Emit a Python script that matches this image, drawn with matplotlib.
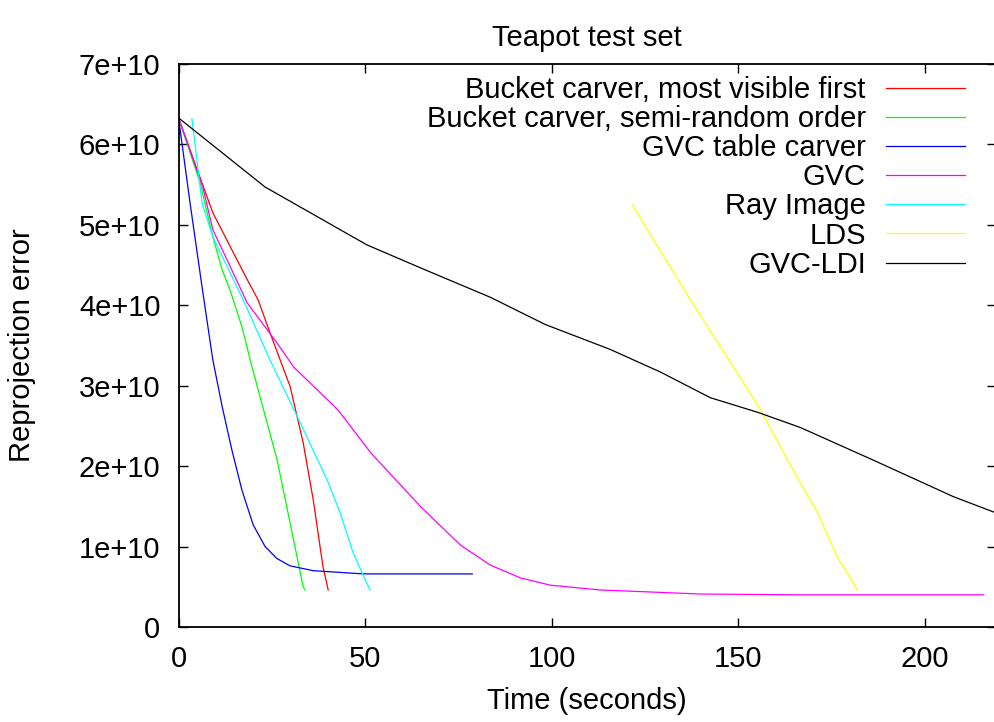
import numpy as np
import matplotlib
matplotlib.use("Agg")
import matplotlib.pyplot as plt

plt.rcParams['font.family'] = ['Liberation Sans', 'DejaVu Sans']

# values (time in s, error in units of 1e10)
red_t = [0, 6.3, 9.2, 18.4, 21.3, 24.5, 29.9, 33.4, 36.1, 38.7, 40.1]
red_v = [6.33, 5.52, 5.15, 4.32, 4.07, 3.66, 2.99, 2.29, 1.58, 0.75, 0.46]

green_t = [0, 5.8, 9.2, 11.7, 13.8, 17.0, 19.7, 26.4, 33.4, 33.9]
green_v = [6.33, 5.52, 4.85, 4.44, 4.19, 3.73, 3.23, 2.08, 0.50, 0.46]

blue_t = [0, 3.1, 6.3, 9.2, 11.7, 14.3, 17.0, 20.0, 23.2, 26.4, 29.9, 36.1, 49.5, 78.7]
blue_v = [6.33, 5.27, 4.23, 3.32, 2.74, 2.20, 1.70, 1.27, 1.00, 0.85, 0.76, 0.70, 0.66, 0.66]

mag_t = [0, 6.5, 9.2, 18.4, 26.4, 30.9, 42.7, 51.6, 65.0, 75.5, 83.5, 91.6, 99.6, 113, 139.8, 166.6, 215.7]
mag_v = [6.33, 5.47, 4.94, 4.03, 3.53, 3.23, 2.70, 2.16, 1.49, 1.02, 0.77, 0.61, 0.52, 0.46, 0.41, 0.40, 0.40]

cyan_t = [3.6, 6.3, 9.2, 17.3, 24.5, 32.6, 39.8, 43.3, 46.8, 51.3]
cyan_v = [6.32, 5.27, 4.85, 4.07, 3.32, 2.54, 1.83, 1.42, 0.92, 0.46]

yel_t = [121.6, 125.6, 137.1, 148.7, 155.9, 163.1, 171.2, 176.5, 181.9]
yel_v = [5.25, 4.94, 4.07, 3.23, 2.70, 2.08, 1.42, 0.87, 0.46]

blk_t = [0, 23.2, 50.5, 66.1, 83.5, 98.3, 115.7, 129.1, 142.5, 155.1, 166.6, 187.3, 207.6, 218.9]
blk_v = [6.33, 5.47, 4.75, 4.44, 4.10, 3.76, 3.45, 3.17, 2.85, 2.67, 2.48, 2.05, 1.62, 1.42]

series = [
    ("Bucket carver, most visible first", red_t, red_v, "#ff0000"),
    ("Bucket carver, semi-random order", green_t, green_v, "#00ff00"),
    ("GVC table carver", blue_t, blue_v, "#0000ff"),
    ("GVC", mag_t, mag_v, "#ff00ff"),
    ("Ray Image", cyan_t, cyan_v, "#00ffff"),
    ("LDS", yel_t, yel_v, "#ffff00"),
    ("GVC-LDI", blk_t, blk_v, "#000000"),
]

FS = 21

fig = plt.figure(figsize=(9.95, 7.22), dpi=100)
ax = fig.add_axes([0.1794, 0.1316, 0.8216, 0.7798])

for name, t, v, c in series:
    ax.plot(t, np.array(v) * 1e10, color=c, lw=0.9, label=name)

ax.set_xlim(0, 219)
ax.set_ylim(0, 7e10)
ax.set_xticks([0, 50, 100, 150, 200])
yt = np.arange(0, 8) * 1e10
ax.set_yticks(yt)
ax.set_yticklabels(["0"] + ["%de+10" % i for i in range(1, 8)])
ax.tick_params(direction="in", length=6.5, width=1.0, top=True, right=True,
               labelsize=FS)
ax.tick_params(axis="y", pad=13)
ax.tick_params(axis="x", pad=13)
for s in ax.spines.values():
    s.set_linewidth(1.3)

fig.text(0.5895, 1 - 46 / 722, "Teapot test set", fontsize=FS,
         ha="center", va="baseline")
fig.text(0.5895, 13 / 722, "Time (seconds)", fontsize=FS,
         ha="center", va="baseline")
fig.text(22 / 995, 0.5215, "Reprojection error", fontsize=FS,
         ha="center", va="center", rotation=90)

ax.legend(loc="upper right", frameon=False, markerfirst=False, fontsize=FS,
          handlelength=2.7, handletextpad=0.7, labelspacing=0.04,
          borderpad=0.0, borderaxespad=0.0, bbox_to_anchor=(0.962, 0.979))

fig.savefig("out.png", dpi=100)
